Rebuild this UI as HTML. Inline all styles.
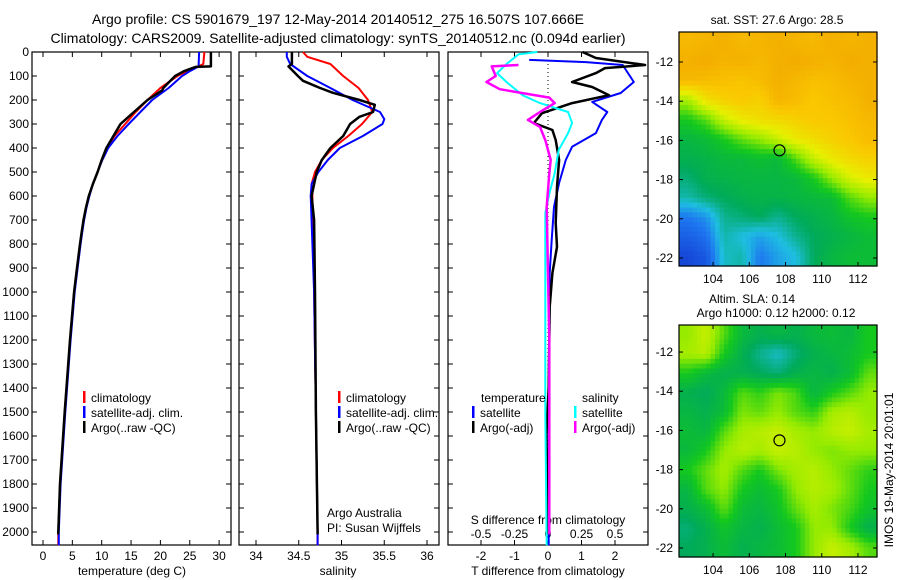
<!DOCTYPE html>
<html><head><meta charset="utf-8"><style>
body{margin:0;background:#fff}
svg{display:block;font-family:"Liberation Sans",sans-serif}
text{fill:#000}
</style></head><body>
<svg id="fig" width="900" height="580" viewBox="0 0 900 580">
<text x="338" y="24" font-size="14" text-anchor="middle">Argo profile: CS 5901679_197 12-May-2014 20140512_275 16.507S 107.666E</text>
<text x="338" y="43" font-size="14" text-anchor="middle">Climatology: CARS2009. Satellite-adjusted climatology: synTS_20140512.nc (0.094d earlier)</text>
<g id="g"></g>
</svg>
<script>
// ---------- data ----------
const depthTicks=[0,100,200,300,400,500,600,700,800,900,1000,1100,1200,1300,1400,1500,1600,1700,1800,1900,2000];
const tTicks=[0,5,10,15,20,25,30];
const sTicks=[34,34.5,35,35.5,36];
const sTickLabels=["34","34.5","35","35.5","36"];
const tdTicks=[-2,-1,0,1,2];
const sdTicks=[-0.5,-0.25,0,0.25,0.5];
const latTicks=[-12,-14,-16,-18,-20,-22];
const lonTicks=[104,106,108,110,112];

const tClimDepth=[0,50,60,80,100,150,200,250,300,350,400,450,500,550,600,650,700,750,800,900,1000,1200,1500,1800,2000,2055];
const tClimVal=[27.5,27.3,26.5,24.5,22.9,20,17.8,15.8,14,12.2,10.9,10,9.3,8.5,7.8,7.3,6.9,6.6,6.3,5.8,5.3,4.6,3.7,2.9,2.6,2.6];
const tSatDepth=[0,60,80,100,150,200,250,300,350,400,450,500,550,600,650,700,750,800,900,1000,1200,1500,1800,2000,2055];
const tSatVal=[26.6,26.5,25,23.7,21.4,18.6,16.6,14.6,12.7,11.1,10.1,9.3,8.5,7.9,7.4,7,6.7,6.4,5.9,5.4,4.7,3.8,3.0,2.7,2.7];
const tArgoDepth=[0,60,62,80,100,150,160,200,250,300,350,400,450,500,550,600,650,700,750,800,900,1000,1200,1500,1800,2000,2010];
const tArgoVal=[28.6,28.6,26,24,22.5,20.5,20.3,17.8,15.5,13.2,12,10.8,10,9.3,8.5,7.8,7.3,6.9,6.6,6.3,5.8,5.3,4.6,3.7,2.9,2.6,2.6];

const sClimDepth=[0,20,50,100,150,200,250,300,350,400,450,500,550,600,1000,1500,2000,2055];
const sClimVal=[34.55,34.6,34.87,35.02,35.2,35.31,35.36,35.24,35.08,34.9,34.77,34.69,34.65,34.66,34.68,34.7,34.72,34.72];
const sSatDepth=[0,20,50,100,150,200,250,280,300,350,400,450,500,550,600,1000,1500,2000,2055];
const sSatVal=[34.36,34.36,34.4,34.6,34.87,35.13,35.45,35.5,35.48,35.25,34.98,34.84,34.73,34.65,34.64,34.68,34.7,34.72,34.72];
const sArgoDepth=[0,50,60,100,120,150,170,200,220,250,270,300,350,400,450,500,600,700,1000,1500,2000,2010];
const sArgoVal=[34.42,34.42,34.38,34.49,34.55,34.75,34.9,35.21,35.39,35.37,35.21,35.1,35.02,34.87,34.77,34.71,34.65,34.68,34.69,34.7,34.72,34.72];

const tdSatDepth=[33,42,54,125,171,208,250,283,338,395,450,546,646,783,921,1200,1600,2055];
const tdSatVal=[-0.56,1.13,2.23,2.56,2.17,1.32,1.77,1.61,1.43,0.72,0.53,0.33,0.18,0.11,0.05,0.03,0.02,0.02];
const tdArgoDepth=[0,25,54,67,88,125,146,180,213,255,296,325,367,450,562,712,812,921,1062,1400,1600,2000,2010];
const tdArgoVal=[1.03,1.43,2.9,1.7,1.43,0.72,1.32,1.82,0.72,-0.18,-0.42,0.13,0.23,0.33,0.27,0.23,0.27,0.13,0.05,0.02,-0.05,0.02,0.02];
const sdSatDepth=[0,10,50,88,125,180,213,250,296,338,408,505,590,670,921,1500,2055];
const sdSatVal=[-0.08,-0.22,-0.31,-0.38,-0.31,-0.19,-0.06,0.15,0.18,0.15,0.08,0.05,0.01,-0.02,-0.02,-0.02,-0.01];
const sdArgoDepth=[54,60,100,125,155,190,213,250,283,312,367,450,505,646,1200,2010];
const sdArgoVal=[-0.22,-0.42,-0.39,-0.46,-0.36,0.01,0.05,-0.06,-0.15,-0.06,-0.02,0.02,0.01,-0.01,0.01,0.01];

// SST grid (normalised colour value), rows north->south, cols west->east
const sstGrid=[
[0.84,0.85,0.86,0.84,0.85,0.86,0.85,0.84,0.86,0.85,0.86],
[0.86,0.87,0.85,0.86,0.84,0.86,0.87,0.86,0.85,0.87,0.86],
[0.84,0.83,0.82,0.81,0.83,0.86,0.84,0.82,0.83,0.85,0.86],
[0.62,0.74,0.78,0.8,0.78,0.85,0.83,0.8,0.82,0.83,0.86],
[0.5,0.55,0.66,0.72,0.75,0.76,0.78,0.8,0.8,0.82,0.84],
[0.44,0.46,0.5,0.56,0.6,0.66,0.72,0.75,0.78,0.8,0.83],
[0.42,0.43,0.45,0.45,0.47,0.45,0.55,0.66,0.72,0.76,0.78],
[0.38,0.42,0.43,0.44,0.44,0.44,0.45,0.5,0.6,0.68,0.72],
[0.34,0.38,0.4,0.42,0.43,0.43,0.44,0.45,0.46,0.55,0.6],
[0.2,0.24,0.36,0.38,0.4,0.36,0.4,0.42,0.44,0.48,0.5],
[0.14,0.18,0.34,0.3,0.26,0.3,0.36,0.4,0.42,0.44,0.46],
[0.08,0.12,0.32,0.34,0.2,0.26,0.3,0.4,0.44,0.46,0.46]
];
const slaGrid=[
[0.6,0.66,0.55,0.45,0.42,0.44,0.42,0.45,0.46,0.44,0.5],
[0.62,0.64,0.5,0.42,0.36,0.32,0.38,0.42,0.44,0.46,0.5],
[0.5,0.45,0.42,0.42,0.4,0.38,0.42,0.44,0.42,0.46,0.56],
[0.42,0.4,0.45,0.55,0.52,0.58,0.54,0.44,0.5,0.55,0.6],
[0.44,0.42,0.46,0.58,0.56,0.6,0.55,0.52,0.62,0.64,0.6],
[0.46,0.44,0.55,0.62,0.64,0.66,0.62,0.6,0.64,0.66,0.62],
[0.45,0.5,0.6,0.64,0.62,0.66,0.64,0.6,0.58,0.6,0.6],
[0.5,0.56,0.62,0.55,0.5,0.58,0.62,0.64,0.6,0.56,0.52],
[0.44,0.55,0.6,0.5,0.46,0.5,0.6,0.64,0.62,0.56,0.5],
[0.42,0.46,0.56,0.46,0.44,0.48,0.56,0.62,0.58,0.54,0.48],
[0.38,0.42,0.48,0.44,0.42,0.46,0.5,0.6,0.6,0.5,0.42],
[0.4,0.42,0.46,0.42,0.44,0.46,0.5,0.6,0.66,0.62,0.55]
];
const argoLon=107.666, argoLat=-16.507;

// ---------- helpers ----------
const NS="http://www.w3.org/2000/svg";
const G=document.getElementById('g');
function mk(tag,attrs,parent){const e=document.createElementNS(NS,tag);for(const k in attrs)e.setAttribute(k,attrs[k]);(parent||G).appendChild(e);return e;}
function txt(x,y,s,size,anchor,parent){const e=mk('text',{x:x,y:y,'font-size':size||12,'text-anchor':anchor||'middle'},parent);e.textContent=s;return e;}
const Y=d=>52+d*0.24;
function panel(name,x0,x1,y0,y1){const r=mk('rect',{x:x0,y:y0,width:x1-x0,height:y1-y0,fill:'none',stroke:'#000','stroke-width':1.2});

return r;}
function line(name,depths,vals,X,color,w){let d='';for(let i=0;i<depths.length;i++)d+=(i?'L':'M')+X(vals[i]).toFixed(1)+','+Y(depths[i]).toFixed(1);
const p=mk('path',{d:d,fill:'none',stroke:color,'stroke-width':w||2,'stroke-linejoin':'round'});

return p;}
function depthTicksFor(x0,x1,labels){depthTicks.forEach(d=>{const y=Y(d);mk('line',{x1:x0,y1:y,x2:x0+5,y2:y,stroke:'#000'});mk('line',{x1:x1,y1:y,x2:x1-5,y2:y,stroke:'#000'});
if(labels){const t=txt(x0-3,y+4,String(d),12,'end');}});}
function xTicks(vals,labels,X,y0,y1,labelY){vals.forEach((v,i)=>{const x=X(v);mk('line',{x1:x,y1:y1,x2:x,y2:y1-5,stroke:'#000'});mk('line',{x1:x,y1:y0,x2:x,y2:y0+5,stroke:'#000'});
const t=txt(x,labelY,labels[i],12);});}
function legendEntry(x,y,color,label){const g=mk('g',{});
mk('rect',{x:x,y:y-6,width:2.5,height:12,fill:color},g);txt(x+8,y+5,label,12,'start',g);}

// ---------- panel 1: temperature ----------
const XT=v=>43+v*5.87;
panel('temperature-panel',32,231,52,545);
depthTicksFor(32,231,true);
xTicks(tTicks,tTicks.map(String),XT,52,545,560);
txt(132,575,'temperature (deg C)',12);
line('temperature-climatology',tClimDepth,tClimVal,XT,'#f00',2);
line('temperature-satellite-adj',tSatDepth,tSatVal,XT,'#00f',2);
line('temperature-argo',tArgoDepth,tArgoVal,XT,'#000',2.5);
legendEntry(83,397,'#f00','climatology');
legendEntry(83,412,'#00f','satellite-adj. clim.');
legendEntry(83,427,'#000','Argo(..raw -QC)');

// ---------- panel 2: salinity ----------
const XS=v=>256+(v-34)*85.5;
panel('salinity-panel',239,439,52,545);
depthTicksFor(239,439,false);
xTicks(sTicks,sTickLabels,XS,52,545,560);
txt(338,575,'salinity',12);
line('salinity-climatology',sClimDepth,sClimVal,XS,'#f00',2);
line('salinity-satellite-adj',sSatDepth,sSatVal,XS,'#00f',2);
line('salinity-argo',sArgoDepth,sArgoVal,XS,'#000',2.5);
legendEntry(338,397,'#f00','climatology');
legendEntry(338,412,'#00f','satellite-adj. clim.');
legendEntry(338,427,'#000','Argo(..raw -QC)');
txt(327,517,'Argo Australia',12,'start');
txt(327,532,'PI: Susan Wijffels',12,'start');

// ---------- panel 3: differences ----------
const XD=v=>548+v*33.5;
const XSD=v=>548+v*134;
panel('difference-panel',448,648,52,545);
depthTicksFor(448,648,false);
xTicks(tdTicks,tdTicks.map(String),XD,52,545,560);
mk('line',{x1:548,y1:52,x2:548,y2:545,stroke:'#000','stroke-dasharray':'1,3'});
txt(548,575,'T difference from climatology',12);
txt(548,524,'S difference from climatology',12);
sdTicks.forEach(v=>{const t=txt(XSD(v),538,String(v),12);});
line('tdiff-satellite',tdSatDepth,tdSatVal,XD,'#00f',2);
line('tdiff-argo',tdArgoDepth,tdArgoVal,XD,'#000',2.5);
line('sdiff-satellite',sdSatDepth,sdSatVal,XSD,'#0ff',2);
line('sdiff-argo',sdArgoDepth,sdArgoVal,XSD,'#f0f',2.5);
txt(481,402,'temperature',12,'start');
legendEntry(472,412,'#00f','satellite');
legendEntry(472,427,'#000','Argo(-adj)');
txt(582,402,'salinity',12,'start');
legendEntry(574,412,'#0ff','satellite');
legendEntry(574,427,'#f0f','Argo(-adj)');

// ---------- maps ----------
const cstops=[[0,[16,40,200]],[0.2,[30,120,240]],[0.3,[30,190,225]],[0.4,[0,170,90]],[0.5,[20,200,30]],[0.6,[150,235,0]],[0.7,[230,240,0]],[0.8,[250,200,0]],[0.9,[240,160,0]],[1,[230,120,0]]];
function cmap(v){for(let i=1;i<cstops.length;i++){if(v<=cstops[i][0]){const a=cstops[i-1],b=cstops[i],f=(v-a[0])/(b[0]-a[0]);
const c=a[1].map((q,k)=>Math.round(q+(b[1][k]-q)*f));return 'rgb('+c.join(',')+')';}}return 'rgb(230,120,0)';}
const LON0=102.12,LON1=113.05;
function map(name,grid,y0,y1,latTop,latBot){
 const x0=679,x1=877;
 const LX=l=>x0+(l-LON0)/(LON1-LON0)*(x1-x0);
 const LY=l=>y0+(latTop-l)/(latTop-latBot)*(y1-y0);
 const g=mk('g',{});
 const rows=grid.length,cols=grid[0].length;
 const fr=rows*4,fc=cols*4,cw=(x1-x0)/fc,ch=(y1-y0)/fr;
 for(let i=0;i<fr;i++)for(let j=0;j<fc;j++){
  const gy=Math.min(rows-1,Math.max(0,(i+0.5)/4-0.5)),gx=Math.min(cols-1,Math.max(0,(j+0.5)/4-0.5));
  const r0=Math.floor(gy),c0=Math.floor(gx),r1=Math.min(rows-1,r0+1),c1=Math.min(cols-1,c0+1),fy=gy-r0,fx=gx-c0;
  const v=grid[r0][c0]*(1-fx)*(1-fy)+grid[r0][c1]*fx*(1-fy)+grid[r1][c0]*(1-fx)*fy+grid[r1][c1]*fx*fy;
  mk('rect',{x:(x0+j*cw).toFixed(2),y:(y0+i*ch).toFixed(2),width:(cw+0.6).toFixed(2),height:(ch+0.6).toFixed(2),fill:cmap(v)},g);
 }
 mk('rect',{x:x0,y:y0,width:x1-x0,height:y1-y0,fill:'none',stroke:'#000','stroke-width':1.2},g);
 latTicks.forEach(l=>{const y=LY(l);mk('line',{x1:x0,y1:y,x2:x0+4,y2:y,stroke:'#000'},g);mk('line',{x1:x1,y1:y,x2:x1-4,y2:y,stroke:'#000'},g);txt(x0-6,y+4,String(l),12,'end',g);});
 lonTicks.forEach(l=>{const x=LX(l);mk('line',{x1:x,y1:y0,x2:x,y2:y0+4,stroke:'#000'},g);mk('line',{x1:x,y1:y1,x2:x,y2:y1-4,stroke:'#000'},g);txt(x,y1+17,String(l),12,'middle',g);});
 const c=mk('circle',{cx:LX(argoLon),cy:LY(argoLat),r:5.5,fill:'none',stroke:'#000','stroke-width':1.2},g);
 
 
}
map('sst-map',sstGrid,32,266,-10.47,-22.41);
txt(777,24,'sat. SST: 27.6 Argo: 28.5',12);
map('sla-map',slaGrid,325,557,-10.62,-22.46);
txt(752,303,'Altim. SLA: 0.14',12);
txt(776,317,'Argo h1000: 0.12 h2000: 0.12',12);
const st=txt(0,0,'IMOS 19-May-2014 20:01:01',12);
st.setAttribute('transform','translate(893,470) rotate(-90)');

</script>
</body></html>
